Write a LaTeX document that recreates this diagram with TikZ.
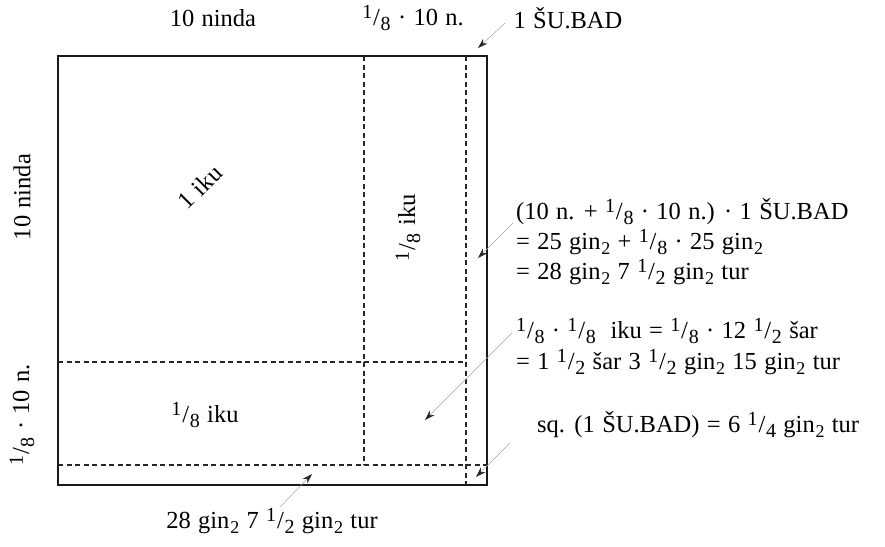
\documentclass[tikz,border=0pt]{standalone}
\usepackage{fontspec}
\setmainfont[WordSpace=1.2]{Liberation Serif}
\usetikzlibrary{arrows.meta}
\newcommand\fr[2]{\raisebox{0.55ex}{\fontsize{20}{20}\selectfont #1}\kern0.8pt/\kern0.8pt\raisebox{-0.45ex}{\fontsize{20}{20}\selectfont #2}}
\newcommand\gin{gin\kern0.8pt\raisebox{-0.45ex}{\fontsize{18}{18}\selectfont 2}}
\begin{document}
\begin{tikzpicture}[x=1pt,y=-1pt,
  every node/.style={font=\fontsize{24.5}{29}\selectfont, inner sep=0pt},
  frame/.style={line width=2.4pt, draw=black!90},
  divider/.style={line width=1.4pt, draw=black!85, dash pattern=on 5pt off 3.5pt},
  pointer/.style={draw=black!35, line width=0.5pt, -{Stealth[length=10pt,width=6.5pt,color=black!85]}}]
\useasboundingbox (0,0) rectangle (885,546);
% frame
\coordinate (NW) at (58,56);
\coordinate (SE) at (487,485);
\draw[frame] (NW) rectangle (SE);
% dividers
\coordinate (v1t) at (364,56);  \coordinate (v1b) at (364,465);
\coordinate (v2t) at (466,56);  \coordinate (v2b) at (466,485);
\coordinate (h1l) at (58,362);  \coordinate (h1r) at (466,362);
\coordinate (h2l) at (58,465);  \coordinate (h2r) at (487,465);
\draw[divider] (v1t) -- (v1b);
\draw[divider] (v2t) -- (v2b);
\draw[divider] (h1l) -- (h1r);
\draw[divider] (h2l) -- (h2r);
% labels
\node (top1) at (213,18) {10 ninda};
\node (top2) at (413,18) {\fr18 · 10 n.};
\node (top3) at (568,18) {1 ŠU.BAD};
\node[rotate=90] (left1) at (22,197) {10 ninda};
\node[rotate=90] (left2) at (22,415) {\fr18 · 10 n.};
\node[rotate=45] (iku) at (200,187) {1 iku};
\node[rotate=90] (ikuv) at (408,228) {\fr18 iku};
\node (ikuh) at (205,415) {\fr18 iku};
\node (bottom) at (272,521) {28 \gin{} 7 \fr12 \gin{} tur};
% right texts
\node[anchor=base west] (r1) at (516,219) {(10 n. + \fr18 · 10 n.) · 1 ŠU.BAD};
\node[anchor=base west] (r2) at (516,249) {= 25 \gin{} + \fr18 · 25 \gin};
\node[anchor=base west] (r3) at (516,279) {= 28 \gin{} 7 \fr12 \gin{} tur};
\node[anchor=base west] (r4) at (516,338) {\fr18 · \fr18\ \ iku = \fr18 · 12 \fr12 šar};
\node[anchor=base west] (r5) at (516,369) {= 1 \fr12 šar 3 \fr12 \gin{} 15 \gin{} tur};
\node[anchor=base west] (r6) at (537,432) {sq. (1 ŠU.BAD) = 6 \fr14 \gin{} tur};
% pointers
\coordinate (a1s) at (505,23);  \coordinate (a1e) at (478,48);
\coordinate (a2s) at (513,223); \coordinate (a2e) at (478,258);
\coordinate (a3s) at (512,333); \coordinate (a3e) at (425,420);
\coordinate (a4s) at (510,443); \coordinate (a4e) at (476,477);
\coordinate (a5s) at (280,507); \coordinate (a5e) at (312,474);
\draw[pointer] (a1s) -- (a1e);
\draw[pointer] (a2s) -- (a2e);
\draw[pointer] (a3s) -- (a3e);
\draw[pointer] (a4s) -- (a4e);
\draw[pointer] (a5s) -- (a5e);
\end{tikzpicture}
\end{document}
